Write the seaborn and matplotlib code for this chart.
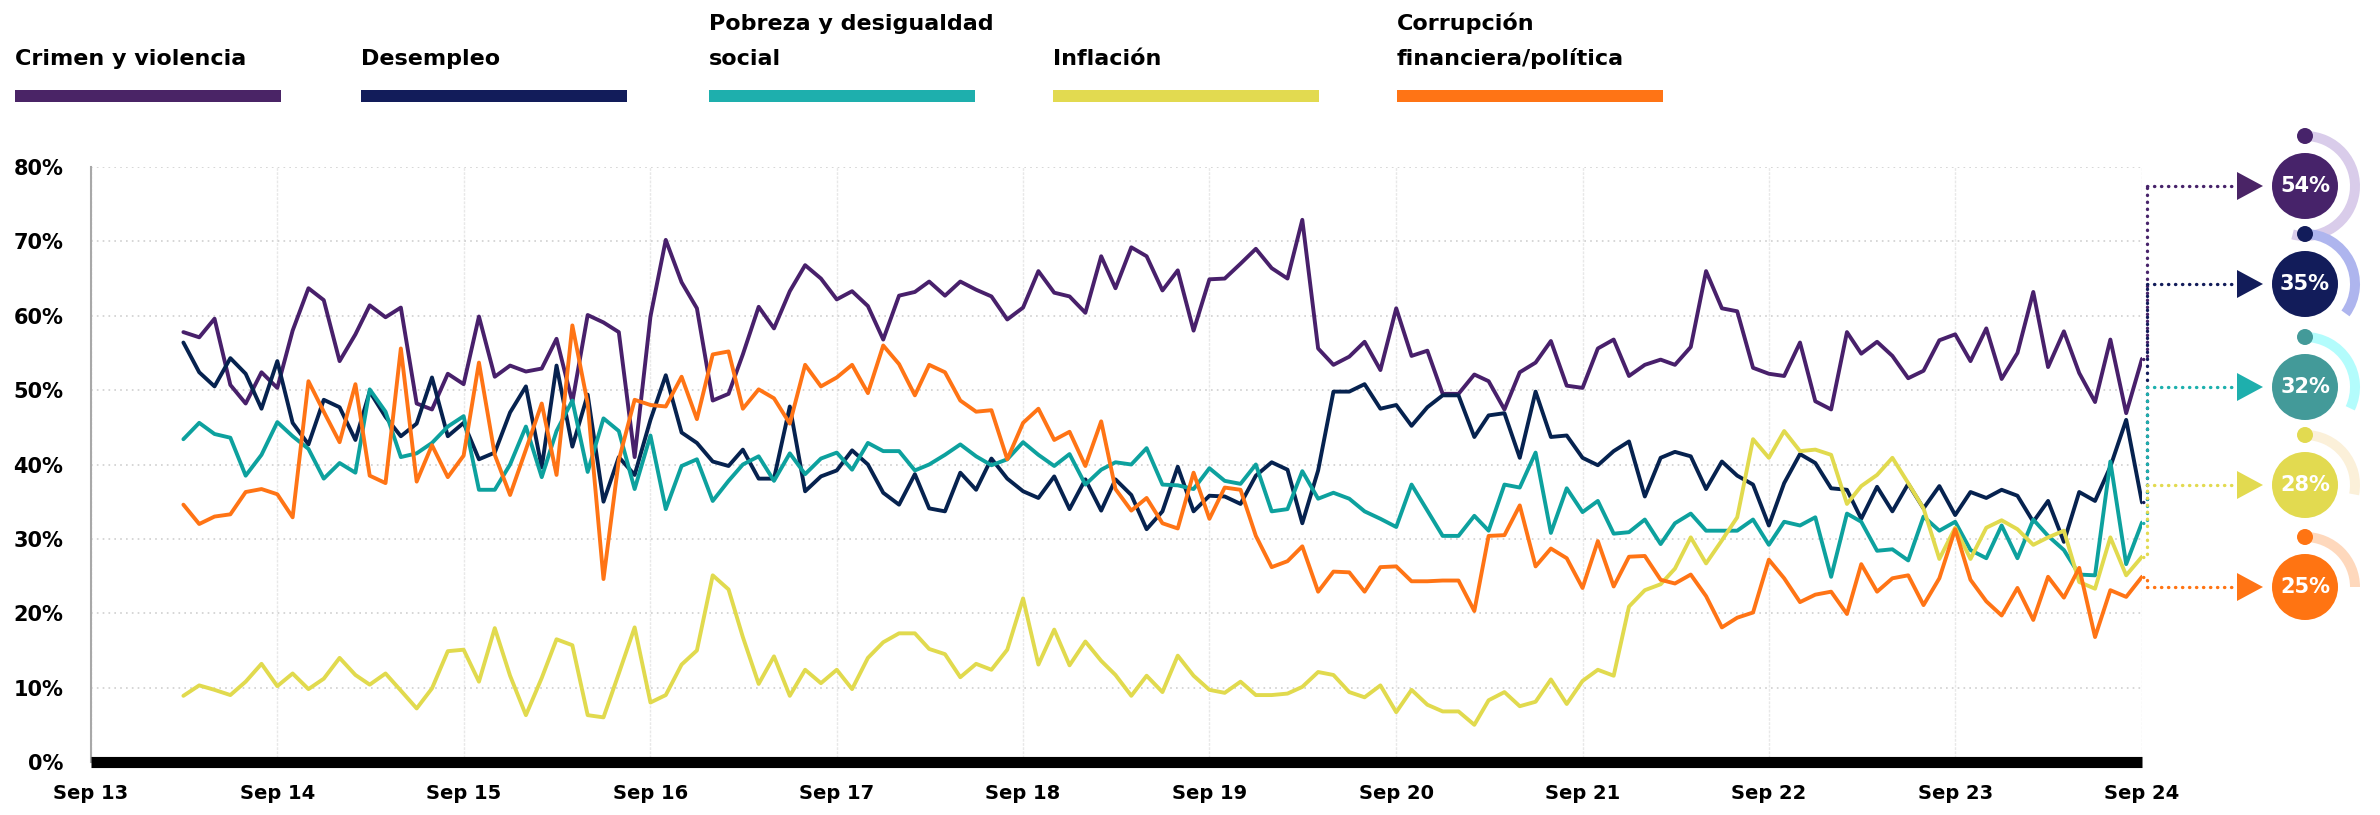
import numpy as np
import pandas as pd
import seaborn as sns
import matplotlib.pyplot as plt
import matplotlib.dates as mdates
from matplotlib.patches import Circle, Wedge, Polygon, Rectangle

# datos mensuales, mar 2014 - sep 2024
meses = pd.date_range("2014-03-01", "2024-09-01", freq="MS")

crimen = [57.8, 57.1, 59.6, 50.7, 48.2, 52.4, 50.3, 58.0, 63.7, 62.1, 53.9, 57.5, 61.4, 59.8, 61.1, 48.2,
          47.4, 52.2, 50.8, 59.9, 51.8, 53.3, 52.5, 52.9, 56.9, 48.4, 60.1, 59.1, 57.8, 41.0, 59.9, 70.2,
          64.5, 61.0, 48.6, 49.5, 54.8, 61.2, 58.3, 63.3, 66.8, 65.0, 62.2, 63.3, 61.3, 56.8, 62.7, 63.2,
          64.6, 62.7, 64.6, 63.5, 62.6, 59.5, 61.1, 66.0, 63.1, 62.6, 60.4, 68.0, 63.7, 69.2, 68.0, 63.4,
          66.1, 58.0, 64.9, 65.0, 67.0, 69.0, 66.4, 65.0, 72.9, 55.6, 53.4, 54.5, 56.5, 52.7, 61.0, 54.6,
          55.3, 49.5, 49.5, 52.1, 51.2, 47.4, 52.4, 53.7, 56.6, 50.6, 50.3, 55.6, 56.8, 51.9, 53.4, 54.1,
          53.4, 55.8, 66.0, 61.0, 60.6, 53.0, 52.2, 51.9, 56.4, 48.5, 47.4, 57.8, 54.9, 56.5, 54.6, 51.6,
          52.6, 56.7, 57.5, 53.9, 58.3, 51.5, 55.0, 63.2, 53.1, 57.9, 52.3, 48.4, 56.8, 46.9, 54.2]

desempleo = [56.4, 52.4, 50.5, 54.3, 52.2, 47.5, 53.9, 45.6, 42.7, 48.7, 47.7, 43.3, 49.8, 46.4, 43.8, 45.5,
             51.7, 43.8, 45.6, 40.7, 41.6, 47.0, 50.5, 39.6, 53.3, 42.4, 49.4, 35.0, 41.0, 38.6, 46.0, 52.0,
             44.3, 42.9, 40.4, 39.8, 42.0, 38.1, 38.1, 47.8, 36.4, 38.4, 39.2, 41.9, 40.0, 36.2, 34.6, 38.7,
             34.1, 33.7, 38.9, 36.6, 40.8, 38.1, 36.4, 35.5, 38.4, 34.0, 38.0, 33.8, 38.0, 35.9, 31.3, 33.7,
             39.7, 33.7, 35.8, 35.7, 34.7, 38.5, 40.3, 39.3, 32.1, 39.2, 49.8, 49.8, 50.8, 47.5, 48.0, 45.2,
             47.7, 49.3, 49.3, 43.7, 46.6, 46.9, 40.9, 49.8, 43.7, 43.9, 40.9, 39.9, 41.8, 43.1, 35.7, 40.9,
             41.7, 41.1, 36.7, 40.4, 38.5, 37.3, 31.8, 37.5, 41.4, 40.2, 36.8, 36.6, 32.7, 37.0, 33.7, 37.4,
             34.1, 37.1, 33.2, 36.3, 35.5, 36.6, 35.8, 32.3, 35.1, 29.6, 36.3, 35.1, 39.7, 46.0, 34.9]

pobreza = [43.4, 45.6, 44.1, 43.6, 38.5, 41.3, 45.7, 43.8, 42.1, 38.1, 40.2, 38.9, 50.1, 47.1, 41.0, 41.5,
           42.9, 45.1, 46.5, 36.6, 36.6, 40.0, 45.1, 38.3, 44.5, 48.6, 39.0, 46.2, 44.5, 36.7, 43.9, 34.0,
           39.8, 40.7, 35.1, 37.8, 40.0, 41.1, 37.8, 41.5, 38.7, 40.8, 41.6, 39.3, 42.9, 41.8, 41.8, 39.2,
           40.0, 41.3, 42.7, 41.1, 39.9, 40.7, 43.0, 41.3, 39.8, 41.4, 37.3, 39.3, 40.3, 40.0, 42.2, 37.3,
           37.2, 36.7, 39.5, 37.8, 37.4, 40.0, 33.7, 34.0, 39.1, 35.4, 36.2, 35.4, 33.7, 32.7, 31.6, 37.3,
           33.8, 30.4, 30.4, 33.1, 31.1, 37.3, 36.9, 41.6, 30.8, 36.8, 33.6, 35.1, 30.7, 30.9, 32.6, 29.3,
           32.1, 33.4, 31.1, 31.1, 31.1, 32.6, 29.2, 32.3, 31.8, 32.9, 24.9, 33.4, 32.3, 28.4, 28.6, 27.1,
           33.0, 31.1, 32.3, 28.5, 27.4, 31.8, 27.4, 32.6, 30.4, 28.5, 25.2, 25.1, 40.4, 26.6, 32.2]

inflacion = [8.9, 10.3, 9.7, 9.0, 10.8, 13.2, 10.2, 11.9, 9.8, 11.2, 14.0, 11.7, 10.4, 11.9, 9.6, 7.2,
             9.9, 14.9, 15.1, 10.8, 18.0, 11.6, 6.3, 11.3, 16.5, 15.7, 6.3, 6.0, 11.9, 18.1, 8.0, 9.0,
             13.1, 15.0, 25.1, 23.2, 16.8, 10.5, 14.2, 8.9, 12.4, 10.6, 12.4, 9.8, 14.0, 16.1, 17.3, 17.3,
             15.2, 14.5, 11.4, 13.2, 12.4, 15.1, 22.0, 13.1, 17.8, 13.0, 16.2, 13.6, 11.7, 8.9, 11.6, 9.4,
             14.3, 11.6, 9.7, 9.3, 10.8, 9.0, 9.0, 9.2, 10.1, 12.1, 11.7, 9.4, 8.7, 10.3, 6.7, 9.7,
             7.7, 6.8, 6.8, 5.0, 8.3, 9.4, 7.5, 8.1, 11.1, 7.8, 10.9, 12.4, 11.6, 20.9, 23.1, 23.9,
             26.0, 30.2, 26.7, 29.8, 32.9, 43.4, 40.9, 44.5, 41.8, 42.0, 41.3, 34.7, 37.1, 38.6, 40.9, 37.5,
             34.1, 27.3, 31.5, 27.3, 31.5, 32.5, 31.3, 29.2, 30.2, 31.1, 24.2, 23.3, 30.2, 25.1, 27.6]

corrupcion = [34.6, 32.0, 33.0, 33.3, 36.3, 36.7, 36.0, 32.9, 51.2, 47.1, 43.0, 50.8, 38.5, 37.5, 55.6, 37.7,
              42.6, 38.3, 41.2, 53.7, 41.3, 35.9, 42.0, 48.2, 38.6, 58.7, 48.2, 24.6, 40.6, 48.7, 48.0, 47.8,
              51.8, 46.1, 54.8, 55.2, 47.5, 50.1, 48.9, 45.5, 53.4, 50.5, 51.7, 53.4, 49.6, 56.0, 53.5, 49.3,
              53.4, 52.4, 48.6, 47.1, 47.3, 40.7, 45.6, 47.5, 43.3, 44.4, 39.8, 45.8, 36.7, 33.8, 35.5, 32.1,
              31.4, 38.9, 32.7, 36.9, 36.6, 30.4, 26.2, 27.0, 29.0, 22.9, 25.6, 25.5, 22.9, 26.2, 26.3, 24.3,
              24.3, 24.4, 24.4, 20.3, 30.4, 30.5, 34.5, 26.3, 28.7, 27.4, 23.4, 29.7, 23.6, 27.6, 27.7, 24.5,
              24.0, 25.2, 22.3, 18.1, 19.4, 20.1, 27.2, 24.7, 21.5, 22.5, 22.9, 19.9, 26.6, 22.9, 24.7, 25.1,
              21.1, 24.7, 31.3, 24.5, 21.6, 19.7, 23.4, 19.1, 24.9, 22.1, 26.1, 16.8, 23.1, 22.2, 24.9]

temas = ["Crimen y violencia", "Desempleo", "Pobreza y desigualdad\nsocial", "Inflación",
         "Corrupción\nfinanciera/política"]
valores = [crimen, desempleo, pobreza, inflacion, corrupcion]
colores_linea = ["#48206B", "#06224F", "#0DA19E", "#E1DA4E", "#FF7415"]
colores_leyenda = ["#4A2466", "#121C5A", "#1EAFAD", "#E2DA50", "#FF7415"]
colores_circulo = ["#47236A", "#121C5A", "#439A99", "#E2DA50", "#FF7412"]
colores_arco = ["#D9CCEA", "#AEB5EE", "#B3FCFC", "#FBF0D9", "#FED8BC"]
ultimos = ["54%", "35%", "32%", "28%", "25%"]

df = pd.DataFrame({
    "fecha": np.tile(meses, len(temas)),
    "tema": np.repeat(temas, len(meses)),
    "valor": np.concatenate(valores),
})

sns.set_style("white")
plt.rcParams["font.family"] = ["DejaVu Sans"]

fig = plt.figure(figsize=(23.8, 8.15), dpi=100)
ax = fig.add_axes([91 / 2380, 1 - 762 / 815, (2142 - 91) / 2380, 595 / 815])

sns.lineplot(data=df, x="fecha", y="valor", hue="tema", hue_order=temas,
             palette=dict(zip(temas, colores_linea)), linewidth=2.8, legend=False, ax=ax)

x0, x1 = pd.Timestamp("2013-09-01"), pd.Timestamp("2024-09-01")
ax.set_xlim(x0, x1)
ax.set_ylim(0, 80)
ax.set_xlabel("")
ax.set_ylabel("")

ax.set_yticks(range(0, 81, 10))
ax.set_yticklabels([f"{v}%" for v in range(0, 81, 10)], fontsize=15, fontweight="bold")
ax.set_xticks(pd.date_range("2013-09-01", "2024-09-01", freq="12MS"))
ax.xaxis.set_major_formatter(mdates.DateFormatter("%b %y"))
for lab in ax.get_xticklabels():
    lab.set_fontsize(14)
    lab.set_fontweight("bold")
ax.tick_params(axis="y", length=0, pad=20, colors="black")
ax.tick_params(axis="x", length=0, pad=16, colors="black")

ax.grid(axis="y", color="#cfcfcf", linestyle=(0, (1, 2.5)), linewidth=1.2)
ax.grid(axis="x", color="#e8e8e8", linestyle=(0, (2, 1)), linewidth=1.0)
ax.set_axisbelow(True)
for s in ["top", "right"]:
    ax.spines[s].set_visible(False)
ax.spines["left"].set_color("#a8a8a8")
ax.spines["left"].set_linewidth(1.5)
ax.spines["bottom"].set_color("black")
ax.spines["bottom"].set_linewidth(8)
ax.spines["bottom"].set_capstyle("butt")
ax.spines["bottom"].set_zorder(5)

# capa de anotaciones en pixeles (y hacia arriba)
ov = fig.add_axes([0, 0, 1, 1], zorder=10)
ov.set_xlim(0, 2380)
ov.set_ylim(0, 815)
ov.set_axis_off()

# leyenda superior
leg_x = [15, 361, 709, 1053, 1397]
for tema, c, lx in zip(temas, colores_leyenda, leg_x):
    lineas = tema.split("\n")
    for j, txt in enumerate(reversed(lineas)):
        ov.text(lx, 750 + 35 * j, txt, fontsize=16, fontweight="bold", ha="left", va="baseline",
                color="black")
    ov.add_patch(Rectangle((lx, 815 - 102), 266, 12, color=c, lw=0))

# insignias con el ultimo valor
cx = 2305
yc_list = [186, 284, 387, 485, 587]
x_vline = 2147
fin_x = mdates.date2num(meses[-1])
puntos = dict(linestyle=(0, (0.1, 2.0)), dash_capstyle="round", linewidth=2.4)
for i in range(len(temas)):
    yc = 815 - yc_list[i]
    pct = int(ultimos[i].rstrip("%"))
    y_end = ax.transData.transform((fin_x, valores[i][-1]))[1]
    ov.plot([2143, x_vline, x_vline], [y_end, y_end, yc], color=colores_circulo[i] if i != 2 else "#1DB0AD", **puntos)
    ov.plot([x_vline, 2237], [yc, yc], color=colores_circulo[i] if i != 2 else "#1DB0AD", **puntos)
    tri_c = colores_leyenda[i] if i != 1 else "#121C5A"
    ov.add_patch(Polygon([(2237, yc + 14), (2237, yc - 14), (2263, yc)], closed=True, color=tri_c, lw=0))
    ov.add_patch(Wedge((cx, yc), 55, 90 - pct * 3.6, 90, width=10, color=colores_arco[i], lw=0))
    ov.add_patch(Circle((cx, yc + 50), 8, color=colores_circulo[i], lw=0))
    ov.add_patch(Circle((cx, yc), 33, color=colores_circulo[i], lw=0))
    ov.text(cx, yc, ultimos[i], color="white", fontsize=15, fontweight="bold", ha="center", va="center")

fig.savefig("out.png", dpi=100, facecolor="white")
